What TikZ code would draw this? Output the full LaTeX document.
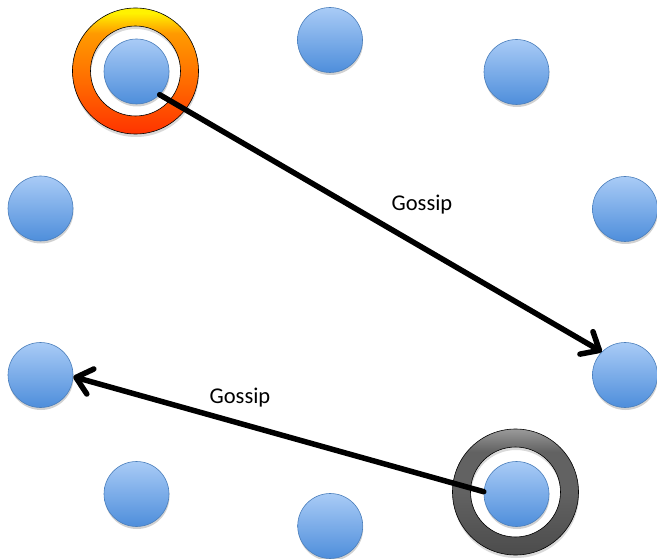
\documentclass[tikz,border=0pt]{standalone}
\usepackage{fontspec}
\setmainfont{Carlito}
\usetikzlibrary{arrows.meta,shadows}
\definecolor{ballTop}{HTML}{A9CBF6}
\definecolor{ballBot}{HTML}{4E8EDB}
\definecolor{ballEdge}{HTML}{4A7EBB}
\definecolor{ringYel}{HTML}{FFF200}
\definecolor{ringAmb}{HTML}{FF9A00}
\definecolor{ringOr}{HTML}{FF6A00}
\definecolor{ringRed}{HTML}{FF3300}
\definecolor{grayTop}{HTML}{9A9A9A}
\definecolor{grayMid}{HTML}{626262}
\definecolor{grayBot}{HTML}{4C4C4C}
% vertical shadings for the two rings (bottom to top, path spans 25bp..75bp)
\pgfdeclareverticalshading{orangering}{100bp}{color(0bp)=(ringRed); color(25bp)=(ringRed);
  color(45bp)=(ringOr); color(65bp)=(ringAmb); color(73bp)=(ringYel); color(100bp)=(ringYel)}
\pgfdeclareverticalshading{grayring}{100bp}{color(0bp)=(grayBot); color(25bp)=(grayBot);
  color(50bp)=(grayMid); color(66bp)=(grayMid); color(75bp)=(grayTop); color(100bp)=(grayTop)}
\tikzset{
  ball/.style={circle, minimum size=65pt, inner sep=0pt, draw=ballEdge, line width=0.6pt,
    top color=ballTop, bottom color=ballBot,
    general shadow={fill=black, opacity=0.18, shadow yshift=-2.5pt, shadow xshift=0.5pt}},
  gossip/.style={draw=black, line width=5.5pt, line cap=round, line join=round,
    -{Straight Barb[length=15pt, width=26pt, line cap=round, line join=round]}},
  lbl/.style={font=\fontsize{22.5}{27}\selectfont, inner sep=0pt},
  ringedge/.style={draw=black, line width=0.6pt}
}
\begin{document}
\begin{tikzpicture}[x=1pt, y=-1pt]
\useasboundingbox (0,0) rectangle (657,559);

% highlighted rings (sender of the first message, sender of the second)
\fill[black, opacity=0.15, even odd rule] (136,74) circle (63) (136,74) circle (45);
\shade[even odd rule, shading=orangering] (135.5,71) circle (63) (135.5,71) circle (45);
\draw[ringedge] (135.5,71) circle (63) (135.5,71) circle (45);

\fill[black, opacity=0.15, even odd rule] (516,495) circle (63) (516,495) circle (45);
\shade[even odd rule, shading=grayring] (515.5,492) circle (63) (515.5,492) circle (45);
\draw[ringedge] (515.5,492) circle (63) (515.5,492) circle (45);

% nodes of the network
\node[ball] (n1)  at (136.5,71.5) {};
\node[ball] (n2)  at (330,40) {};
\node[ball] (n3)  at (516.5,72) {};
\node[ball] (n4)  at (40.5,208.5) {};
\node[ball] (n5)  at (625,209) {};
\node[ball] (n6)  at (40.5,375) {};
\node[ball] (n7)  at (625,375) {};
\node[ball] (n8)  at (136.5,494) {};
\node[ball] (n9)  at (330.2,526) {};
\node[ball] (n10) at (516.5,494) {};

% messages
\draw[gossip] (n1.-45) -- (n7.135);
\draw[gossip] (n10.176) -- (n6.-3);

\node[lbl] (g1) at (422,205) {Gossip};
\node[lbl] (g2) at (240,398) {Gossip};
\end{tikzpicture}
\end{document}
